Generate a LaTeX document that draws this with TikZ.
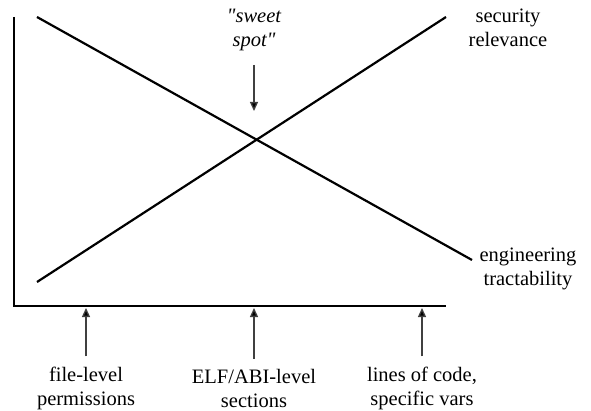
\documentclass[tikz,border=0pt]{standalone}
\usepackage{fontspec}
\setmainfont{Liberation Serif}
\usetikzlibrary{arrows.meta}
\begin{document}
\begin{tikzpicture}[x=1pt,y=-1pt,
  axisline/.style={line width=2.6pt},
  curve/.style={line width=2.2pt},
  ptr/.style={line width=1.3pt,draw=black!75,-{Triangle[length=9pt,width=8pt,fill=black]}},
  lbl/.style={font=\fontsize{20.5}{24}\selectfont,align=center,inner sep=0pt}]
\useasboundingbox (0,0) rectangle (591,411);
% axes
\coordinate (ytop) at (14,17);
\coordinate (orig) at (14,306);
\coordinate (xend) at (446,306);
\draw[axisline] (ytop) -- (orig) -- (xend);
% curves
\coordinate (d1) at (37,17);
\coordinate (d2) at (472,260);
\coordinate (u1) at (37,282);
\coordinate (u2) at (446,17);
\draw[curve] (d1) -- (d2);
\draw[curve] (u1) -- (u2);
% labels on the right
\node[lbl] (sec) at (508,28) {security\\relevance};
\node[lbl] (eng) at (528,269) {engineering\\tractability};
% sweet spot
\node[lbl,font=\fontsize{20.5}{24}\selectfont\itshape] (sweet) at (254,30) {\textquotedbl sweet\\spot\textquotedbl};
\coordinate (sweettip) at (254,111);
\draw[ptr] (254,65) -- (sweettip);
% bottom labels
\node[lbl] (fl) at (86,388) {file-level\\permissions};
\node[lbl] (elf) at (254,388) {ELF/ABI-level\\sections};
\node[lbl] (loc) at (422,388) {lines of code,\\specific vars};
\coordinate (a1) at (86,308);
\coordinate (a2) at (254,308);
\coordinate (a3) at (422,308);
\draw[ptr] (fl.north) ++(0,-10) -- (a1);
\draw[ptr] (elf.north) ++(0,-10) -- (a2);
\draw[ptr] (loc.north) ++(0,-10) -- (a3);
\end{tikzpicture}
\end{document}
